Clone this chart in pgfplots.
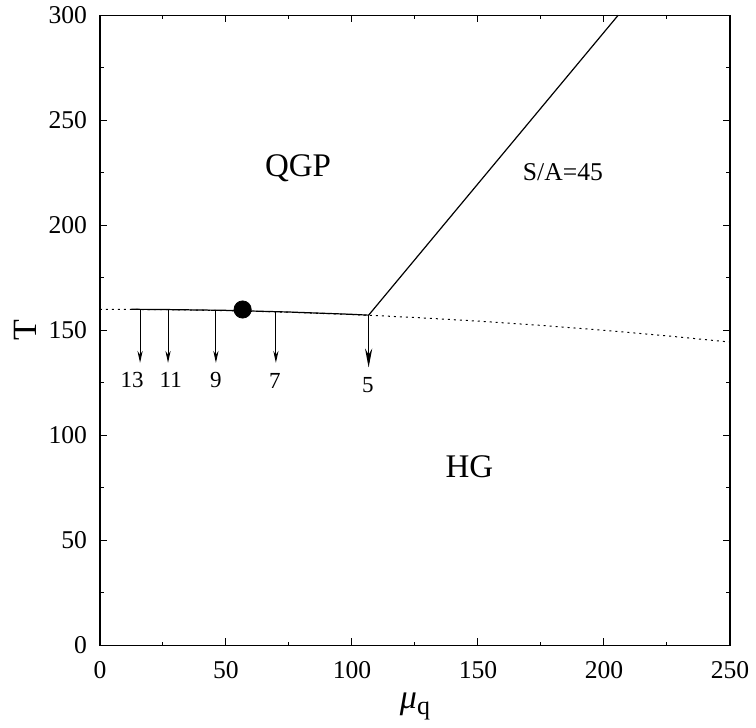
\documentclass[border=0pt]{standalone}
\usepackage{pgfplots}
\pgfplotsset{compat=1.18}
\usepackage{fontspec}
\setmainfont{Liberation Serif}
\usetikzlibrary{arrows.meta}
\begin{document}
\begin{tikzpicture}
\begin{axis}[
  name=ax,
  scale only axis,
  width=315pt, height=315pt,
  xmin=0, xmax=250, ymin=0, ymax=300,
  xtick={0,50,...,250}, ytick={0,50,...,300},
  minor x tick num=1, minor y tick num=1,
  tick align=inside,
  major tick length=3.5pt, minor tick length=1.8pt,
  every tick/.style={black, line width=0.5pt},
  axis line style={line width=0.6pt},
  /pgf/number format/assume math mode=true,
  tick label style={font=\fontsize{12.8}{14}\selectfont},
  yticklabel style={xshift=-3pt},
  xticklabel style={yshift=-4.8pt},
  xlabel={\textit{μ}\raisebox{-3.2pt}{\fontsize{13}{14}\selectfont q}},
  ylabel={T},
  xlabel style={font=\fontsize{17}{19}\selectfont, yshift=0pt},
  ylabel style={font=\fontsize{17}{19}\selectfont, yshift=-1pt},
  clip=false,
]
% dotted transition line
\addplot[black, line width=0.5pt, dash pattern=on 1pt off 2pt] coordinates {
(0,160) (25,159.84) (50,159.38) (75,158.59) (100,157.5) (106.6,157.16) (125,156.1) (150,154.38) (175,152.34) (200,150.0) (225,147.36) (250,144.4)};
% solid segment
\addplot[black, line width=0.6pt] coordinates {
(12.5,160) (25,159.9) (50,159.5) (75,158.7) (100,157.6) (106.6,157.2)};
% S/A=45 line
\addplot[black, line width=0.6pt] coordinates {(106.6,157.2) (205.6,300)};
% point
\addplot[only marks, mark=*, mark size=4.3pt, black] coordinates {(56.6,159.9)};
% arrows
\addplot[black, line width=0.5pt, -{Stealth[length=6pt,width=2.6pt]}] coordinates {(15.9,160) (15.9,134.5)};
\addplot[black, line width=0.5pt, -{Stealth[length=6pt,width=2.6pt]}] coordinates {(27.0,159.9) (27.0,134.5)};
\addplot[black, line width=0.5pt, -{Stealth[length=6pt,width=2.6pt]}] coordinates {(46.0,159.5) (46.0,134.5)};
\addplot[black, line width=0.5pt, -{Stealth[length=6pt,width=2.6pt]}] coordinates {(69.8,158.8) (69.8,134.5)};
\addplot[black, line width=0.6pt, -{Stealth[length=9.5pt,width=3.6pt]}] coordinates {(106.6,157.2) (106.6,132.3)};
% labels
\node[font=\fontsize{11.5}{13}\selectfont] at (axis cs:12.7,126.5) {13};
\node[font=\fontsize{11.5}{13}\selectfont] at (axis cs:28.1,126.5) {11};
\node[font=\fontsize{11.5}{13}\selectfont] at (axis cs:46,126.3) {9};
\node[font=\fontsize{11.5}{13}\selectfont] at (axis cs:69.4,125.7) {7};
\node[font=\fontsize{11.5}{13}\selectfont] at (axis cs:106.3,123.7) {5};
\node[font=\fontsize{16.5}{18}\selectfont] at (axis cs:78.6,227) {QGP};
\node[font=\fontsize{16.5}{18}\selectfont] at (axis cs:146.6,85.2) {HG};
\node[font=\fontsize{12.8}{14}\selectfont] at (axis cs:183.7,225.2) {S/A=45};
\end{axis}
\path ([shift={(-50pt,-38.5pt)}]ax.south west) rectangle ([shift={(13pt,7pt)}]ax.north east);
\end{tikzpicture}
\end{document}
